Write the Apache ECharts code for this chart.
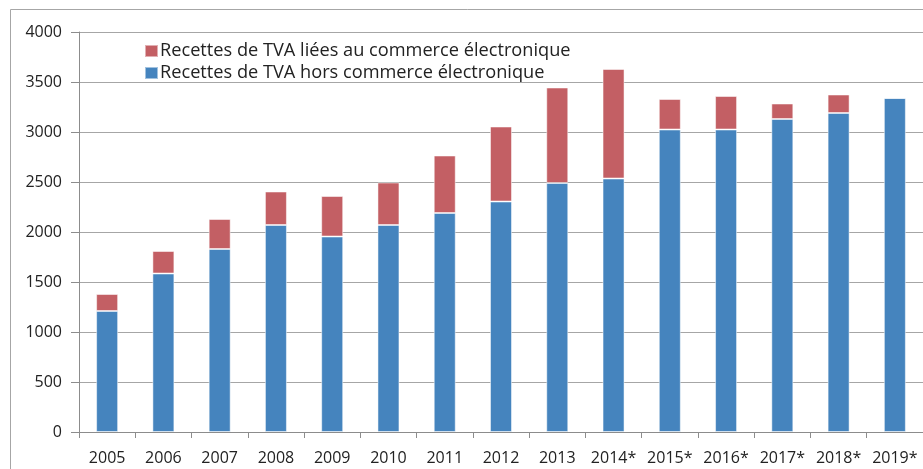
<!DOCTYPE html>
<html>
<head>
<meta charset="utf-8">
<script src="https://cdn.jsdelivr.net/npm/echarts@6/dist/echarts.min.js"></script>
<style>
html,body{margin:0;padding:0;background:#fff;}
#c{width:923px;height:469px;}
</style>
</head>
<body>
<div id="c"></div>
<script>
const categories = ['2005','2006','2007','2008','2009','2010','2011','2012','2013','2014*','2015*','2016*','2017*','2018*','2019*'];
const horsCommerce = [1210,1585,1830,2070,1955,2070,2190,2305,2490,2535,3025,3025,3130,3190,3340];
const commerceElec = [170,225,300,335,405,425,575,750,955,1095,305,335,155,185,0];
const seriesNames = ['Recettes de TVA liées au commerce électronique','Recettes de TVA hors commerce électronique'];

const FONT = 'Open Sans';
const chart = echarts.init(document.getElementById('c'), null, {renderer:'canvas'});
chart.setOption({
  animation:false,
  backgroundColor:'#fff',
  graphic:[{type:'rect', shape:{x:10.5,y:9.5,width:1000,height:1000}, style:{fill:'none', stroke:'#a6a6a6', lineWidth:1}, z:-1}],
  legend:{
    orient:'vertical', left:139, top:37, itemWidth:13, itemHeight:12, itemGap:4,
    data:[seriesNames[0], seriesNames[1]],
    textStyle:{fontFamily:FONT, fontSize:18.2, color:'#222', lineHeight:17, padding:[0,0,0,-3]},
    icon:'rect'
  },
  grid:{left:79, top:32, right:-2, bottom:37, containLabel:false},
  xAxis:{
    type:'category', data:categories, boundaryGap:true,
    axisLine:{lineStyle:{color:'#8c8c8c', width:1}},
    axisTick:{show:true, length:6, lineStyle:{color:'#8c8c8c'}},
    axisLabel:{fontFamily:FONT, fontSize:16, color:'#222', margin:18, interval:0}
  },
  yAxis:{
    type:'value', min:0, max:4000, interval:500,
    axisLine:{show:true, lineStyle:{color:'#8c8c8c'}},
    axisTick:{show:true, length:8, lineStyle:{color:'#8c8c8c'}},
    axisLabel:{fontFamily:FONT, fontSize:16, color:'#222', margin:17, formatter:function(v){return String(v);}},
    splitLine:{lineStyle:{color:'#a6a6a6', width:1}}
  },
  series:[
    {name:seriesNames[1], type:'bar', stack:'t', data:horsCommerce, barWidth:22,
     itemStyle:{color:'#4584be', borderColor:'rgba(255,255,255,0.5)', borderWidth:1}},
    {name:seriesNames[0], type:'bar', stack:'t', data:commerceElec, barWidth:22,
     itemStyle:{color:'#c35f64', borderColor:'rgba(255,255,255,0.5)', borderWidth:1}}
  ]
});
</script>
</body>
</html>
